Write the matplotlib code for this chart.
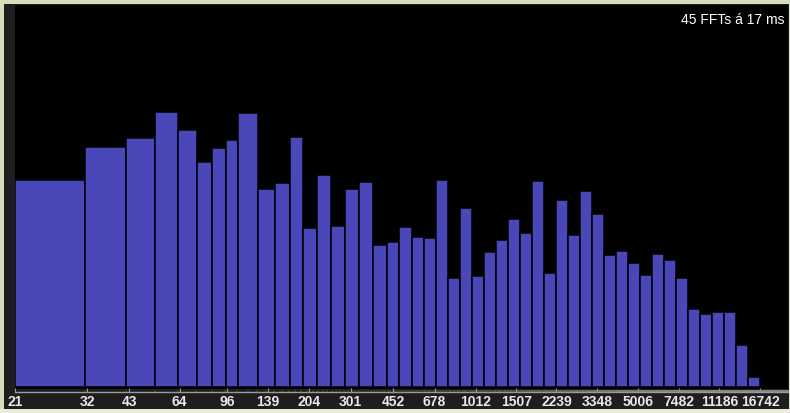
import numpy as np
import matplotlib
matplotlib.use("Agg")
import matplotlib.pyplot as plt
from matplotlib.patches import Rectangle

# ---- data ----
band_edges_hz = [21.0, 31.5, 42.0, 52.5, 63.2, 74.1, 84.3, 95.3, 106.0, 126.9,
                 147.6, 170.3, 192.2, 219.3, 250.3, 285.9, 326.8, 373.8, 427.8, 480.5,
                 545.0, 612.5, 688.4, 773.9, 870.0, 978.5, 1100, 1238, 1393, 1568,
                 1764, 1985, 2234, 2515, 2831, 3187, 3587, 4038, 4546, 5118,
                 5762, 6488, 7305, 8225, 9261, 10428, 11742, 13222, 14888, 16765]
levels = [207, 240, 249, 275, 257, 225, 239, 247, 274, 198,
          204, 250, 159, 212, 161, 198, 205, 142, 145, 160,
          150, 149, 207, 109, 179, 111, 135, 147, 168, 154,
          206, 114, 187, 152, 196, 173, 132, 136, 124, 112,
          133, 127, 109, 78, 73, 75, 75, 42, 10]
tick_freqs = [21, 32, 43, 64, 96, 139, 204, 301, 452, 678, 1012, 1507,
              2239, 3348, 5006, 7482, 11186, 16742]
tick_labels = [str(f) for f in tick_freqs]
title_text = "45 FFTs á 17 ms"
f_min, f_max = 21, 22050
level_max = 382

# ---- figure ----
W, H = 790, 413
fig = plt.figure(figsize=(W / 100, H / 100), dpi=100)
fig.patch.set_facecolor('#d6dfbd')

def px_rect(x0, y0, x1, y1, color):
    fig.add_artist(Rectangle((x0 / W, 1 - y1 / H), (x1 - x0) / W, (y1 - y0) / H,
                             transform=fig.transFigure, facecolor=color,
                             edgecolor='none', zorder=0))

# bottom pale strip and dark frame
px_rect(0, 409, W, H, '#ecebdc')
px_rect(4, 4, 789, 409, '#1e1e1e')

ax = fig.add_axes([15 / W, 1 - 389 / H, (788 - 15) / W, (389 - 5) / H])
ax.set_facecolor('black')

fwd = lambda f: np.log10(np.maximum(np.asarray(f, dtype=float) - 10.5, 1e-9))
inv = lambda y: 10 ** np.asarray(y, dtype=float) + 10.5
ax.set_xscale('function', functions=(fwd, inv))
ax.set_xlim(f_min, f_max)
ax.set_ylim(-2, level_max)

lefts = np.array(band_edges_hz[:-1])
widths = np.diff(band_edges_hz)
ax.bar(lefts, levels, width=widths, align='edge', color='#4a47b9',
       edgecolor='black', linewidth=1.1, zorder=2)

for s in ['top', 'left', 'right']:
    ax.spines[s].set_visible(False)
ax.spines['bottom'].set_position(('outward', 2.5))
ax.spines['bottom'].set_color('#9a9a9a')
ax.spines['bottom'].set_linewidth(1.0)
ax.yaxis.set_visible(False)

ax.set_xticks(tick_freqs)
ax.set_xticklabels(tick_labels)
ax.set_xticks(np.arange(21, 22050, 10.5), minor=True)
ax.tick_params(axis='x', which='major', direction='in', length=3, width=0.8,
               color='#9a9a9a', pad=1.5, labelsize=10, labelcolor='#e8e8e8')
ax.tick_params(axis='x', which='minor', direction='in', length=1.5, width=0.3,
               color='#8a8a8a')
for lab in ax.get_xticklabels():
    lab.set_fontfamily('Liberation Sans')
    lab.set_fontweight('bold')

ax.text(0.995, 0.979, title_text, transform=ax.transAxes, ha='right', va='top',
        color='white', fontsize=10, fontfamily='Liberation Sans')

fig.savefig('out.png', dpi=100, facecolor=fig.get_facecolor())
